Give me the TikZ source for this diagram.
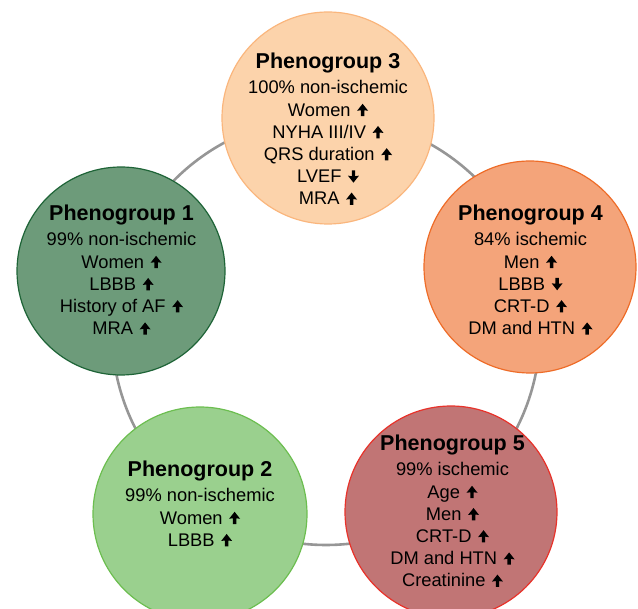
\documentclass[tikz,border=0pt]{standalone}
\usepackage{fontspec}
\setmainfont{Liberation Sans}
\definecolor{ringgray}{RGB}{150,150,150}
\definecolor{fillA}{RGB}{109,155,122}
\definecolor{lineA}{RGB}{30,100,55}
\definecolor{fillB}{RGB}{154,208,142}
\definecolor{lineB}{RGB}{108,190,80}
\definecolor{fillC}{RGB}{252,211,171}
\definecolor{lineC}{RGB}{250,182,125}
\definecolor{fillD}{RGB}{244,164,122}
\definecolor{lineD}{RGB}{238,108,40}
\definecolor{fillE}{RGB}{193,117,117}
\definecolor{lineE}{RGB}{232,50,42}
\newcommand\arup{\hspace{6.5pt}\tikz[baseline=0pt]\fill[black] (-1.7pt,0pt) -- (-1.7pt,5.8pt) -- (-5.5pt,5.3pt) -- (0pt,12.3pt) -- (5.5pt,5.3pt) -- (1.7pt,5.8pt) -- (1.7pt,0pt) -- cycle;}
\newcommand\ardn{\hspace{6.5pt}\tikz[baseline=0pt]\fill[black] (-1.7pt,12.3pt) -- (-1.7pt,6.5pt) -- (-5.5pt,7pt) -- (0pt,0pt) -- (5.5pt,7pt) -- (1.7pt,6.5pt) -- (1.7pt,12.3pt) -- cycle;}
\newcommand\ptitle[1]{{\bfseries\fontsize{21.5}{24}\selectfont #1}\\[3.3pt]}
\tikzset{
  pgroup/.style={circle, inner sep=0pt, minimum size=212pt, line width=1.2pt},
  ptext/.style={align=center, anchor=north, inner sep=0pt, font=\fontsize{18.3}{22.2}\selectfont, text=black},
  ring/.style={draw=ringgray, line width=2.6pt}
}
\begin{document}
\begin{tikzpicture}[x=1pt,y=-1pt]
\useasboundingbox (0,0) rectangle (638,609);
\draw[ring] (326,331) circle (214);
\node[pgroup, draw=lineC, fill=fillC] (c3) at (328,118) {};
\node[pgroup, draw=lineA, fill=fillA, minimum size=208pt] (c1) at (121,271) {};
\node[pgroup, draw=lineD, fill=fillD] (c4) at (530,267) {};
\node[pgroup, draw=lineB, fill=fillB, minimum size=214pt] (c2) at (200,514) {};
\node[pgroup, draw=lineE, fill=fillE] (c5) at (451,512) {};
\node[ptext] (t3) at (328,52.6) {\ptitle{Phenogroup 3}100\% non-ischemic\\Women\arup\\NYHA III/IV\arup\\QRS duration\arup\\LVEF\ardn\\MRA\arup};
\node[ptext] (t1) at (121.5,204.6) {\ptitle{Phenogroup 1}99\% non-ischemic\\Women\arup\\LBBB\arup\\History of AF\arup\\MRA\arup};
\node[ptext] (t4) at (530.5,204.6) {\ptitle{Phenogroup 4}84\% ischemic\\Men\arup\\LBBB\ardn\\CRT-D\arup\\DM and HTN\arup};
\node[ptext] (t2) at (200,460.6) {\ptitle{Phenogroup 2}99\% non-ischemic\\Women\arup\\LBBB\arup};
\node[ptext] (t5) at (452.5,434.6) {\ptitle{Phenogroup 5}99\% ischemic\\Age\arup\\Men\arup\\CRT-D\arup\\DM and HTN\arup\\Creatinine\arup};
\end{tikzpicture}
\end{document}
